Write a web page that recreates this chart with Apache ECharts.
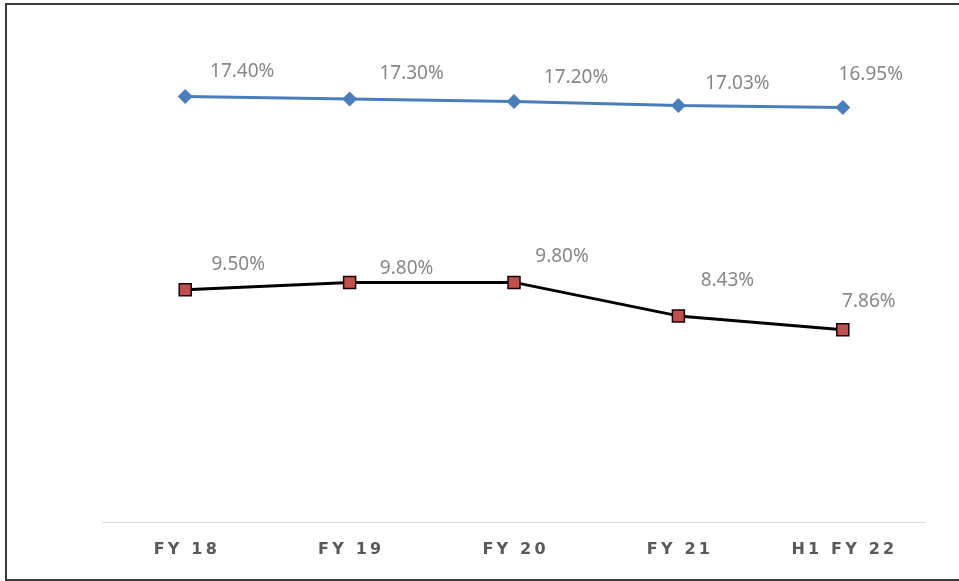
<!DOCTYPE html>
<html>
<head>
<meta charset="utf-8">
<script src="https://cdn.jsdelivr.net/npm/echarts@6/dist/echarts.min.js"></script>
<style>
  html, body { margin: 0; padding: 0; background: #fff; }
  #frame {
    position: absolute; left: 5px; top: 3px; width: 960px; height: 574px;
    border: 2px solid #3a3a3a; border-right: none; box-sizing: content-box;
  }
  #main { position: absolute; left: 0; top: 0; width: 959px; height: 581px; }
</style>
</head>
<body>
<div id="frame"></div>
<div id="main"></div>
<script>
// categories and values
const categories = ["FY 18", "FY 19", "FY 20", "FY 21", "H1 FY 22"];
const blueValues = [17.40, 17.30, 17.20, 17.03, 16.95];
const redValues = [9.50, 9.80, 9.80, 8.43, 7.86];

// label offsets (px) - the labels in the original are placed by hand
const blueLabelOffsets = [[57, -25], [62, -25], [62, -24], [59, -22], [28, -33]];
const redLabelOffsets = [[53, -25], [57, -14], [48, -26], [49, -35], [26, -28]];

// spread the letters a bit, like the original axis labels
const spaced = (s) => s.split("").join("\u2009");

const chart = echarts.init(document.getElementById("main"));

const withLabels = (values, offsets) =>
  values.map((v, i) => ({
    value: v,
    label: { offset: offsets[i] },
  }));

const labelStyle = {
  show: true,
  position: "inside",
  color: "#878787",
  fontSize: 19,
  fontFamily: "Noto Sans",
  formatter: (p) => p.value.toFixed(2) + "%",
};

chart.setOption({
  animation: false,
  grid: { left: 103, right: 34, top: 33, bottom: 59 },
  xAxis: {
    type: "category",
    data: categories,
    boundaryGap: true,
    axisLine: { lineStyle: { color: "#d9d9d9", width: 1 } },
    axisTick: { show: false },
    axisLabel: {
      color: "#595959",
      fontSize: 16,
      fontWeight: "bold",
      fontFamily: "DejaVu Sans",
      margin: 20,
      formatter: (v) => spaced(v),
    },
  },
  yAxis: {
    type: "value",
    min: 0,
    max: 20,
    show: false,
    splitLine: { show: false },
  },
  series: [
    {
      name: "blue",
      type: "line",
      data: withLabels(blueValues, blueLabelOffsets),
      symbol: "diamond",
      symbolSize: 15,
      lineStyle: { color: "#4a7ebb", width: 3 },
      itemStyle: { color: "#4a7ebb" },
      label: labelStyle,
    },
    {
      name: "red",
      type: "line",
      data: withLabels(redValues, redLabelOffsets),
      symbol: "rect",
      symbolSize: 12,
      lineStyle: { color: "#000000", width: 3 },
      itemStyle: { color: "#c0504d", borderColor: "#1a0000", borderWidth: 1.5 },
      label: labelStyle,
    },
  ],
});
</script>
</body>
</html>
